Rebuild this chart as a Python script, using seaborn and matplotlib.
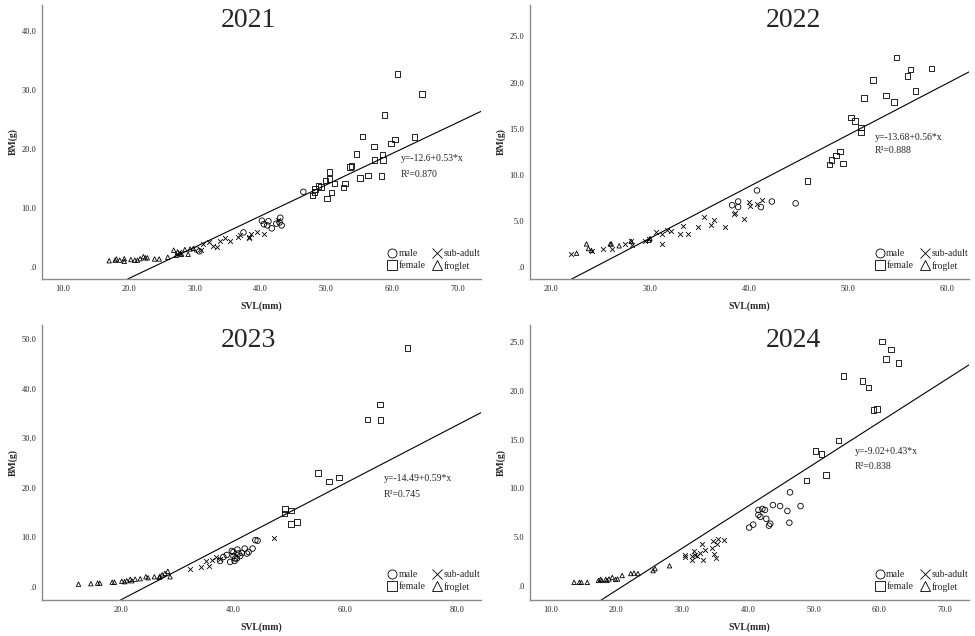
import pandas as pd
import matplotlib.pyplot as plt
import seaborn as sns
from matplotlib.lines import Line2D
from matplotlib.ticker import FuncFormatter

# (SVL mm, BM g), one list per year and group
male_2021 = [(46.5, 12.7), (40.2, 7.8), (40.5, 7.2), (41.0, 7.0), (41.2, 7.7), (41.7, 6.5),
             (42.4, 7.3), (43.0, 8.3), (43.2, 7.0), (42.9, 7.5), (37.4, 5.8), (30.3, 2.9), (30.7, 2.6)]
female_2021 = [(60.8, 32.7), (64.5, 29.3), (58.8, 25.7), (55.5, 22.1), (63.4, 22.0), (57.2, 20.4),
               (60.4, 21.6), (59.8, 20.9), (54.6, 19.1), (58.5, 19.0), (57.3, 18.1), (58.6, 18.1),
               (53.6, 16.9), (53.8, 17.1), (55.1, 15.0), (56.3, 15.5), (58.4, 15.4), (50.5, 16.1),
               (49.9, 14.6), (50.5, 14.9), (51.2, 14.1), (52.8, 14.1), (52.6, 13.4), (48.8, 13.7),
               (49.2, 13.5), (48.3, 13.2), (48.2, 12.7), (47.9, 12.1), (50.8, 12.6), (50.1, 11.6)]
subadult_2021 = [(31.0, 2.9), (31.2, 3.8), (32.1, 4.1), (32.7, 3.5), (33.4, 3.3), (33.9, 4.4),
                 (34.6, 4.8), (35.4, 4.4), (36.5, 5.0), (36.9, 5.3), (38.2, 4.8), (38.5, 5.5),
                 (39.4, 5.8), (40.5, 5.6), (38.3, 5.0), (42.7, 8.0), (27.3, 2.2), (27.6, 2.5)]
froglet_2021 = [(17.0, 1.0), (17.9, 1.1), (18.1, 1.3), (18.6, 1.1), (19.3, 1.35), (19.3, 0.9),
                (20.3, 1.2), (20.9, 1.1), (21.3, 1.1), (21.7, 1.35), (22.2, 1.7), (22.5, 1.5),
                (22.8, 1.5), (23.9, 1.3), (24.6, 1.3), (25.9, 1.6), (26.8, 2.8), (27.2, 1.9),
                (27.4, 2.5), (27.8, 2.2), (28.0, 2.1), (28.5, 2.9), (29.0, 2.1), (29.3, 3.0), (29.8, 3.1)]

male_2022 = [(40.8, 8.3), (38.3, 6.7), (38.9, 7.1), (38.9, 6.5), (41.2, 6.5), (42.3, 7.1), (44.7, 6.9)]
female_2022 = [(54.9, 22.7), (56.3, 21.4), (58.4, 21.5), (56.0, 20.7), (52.5, 20.3), (56.8, 19.1),
               (51.6, 18.3), (53.8, 18.6), (54.6, 17.9), (50.3, 16.2), (50.7, 15.8), (51.3, 15.1),
               (51.3, 14.6), (49.2, 12.5), (48.8, 12.1), (48.3, 11.6), (48.1, 11.1), (49.5, 11.2),
               (45.9, 9.3)]
subadult_2022 = [(40.0, 7.1), (40.1, 6.6), (40.8, 6.8), (41.3, 7.3), (38.5, 5.7), (38.6, 5.9),
                 (39.5, 5.2), (37.6, 4.3), (36.2, 4.6), (36.5, 5.1), (35.5, 5.4), (34.9, 4.3),
                 (33.8, 3.6), (33.0, 3.6), (33.3, 4.5), (32.1, 3.9), (31.7, 4.0), (31.2, 3.6),
                 (31.2, 2.5), (30.6, 3.8), (29.9, 3.0), (29.5, 2.8), (28.2, 2.4), (27.5, 2.5),
                 (26.2, 2.0), (25.3, 1.9), (24.2, 1.7), (22.0, 1.4), (28.1, 2.8)]
froglet_2022 = [(22.6, 1.5), (23.6, 2.5), (23.8, 2.0), (24.1, 1.8), (26.0, 2.5), (26.1, 2.5),
                (26.9, 2.3), (28.1, 2.8), (30.0, 3.1), (29.9, 2.9)]

male_2023 = [(39.5, 5.0), (40.1, 6.2), (40.4, 5.7), (41.0, 6.7), (41.6, 6.8), (42.1, 7.7),
             (42.8, 7.0), (43.5, 7.7), (44.0, 9.4), (44.4, 9.3), (40.7, 5.7), (41.3, 6.2),
             (39.8, 7.2), (38.9, 6.4), (38.3, 6.0), (40.1, 7.0), (40.8, 7.5), (42.5, 6.7),
             (40.3, 5.2), (37.7, 5.2)]
female_2023 = [(71.1, 48.2), (66.2, 36.8), (64.0, 33.8), (66.3, 33.7), (55.2, 23.0), (57.1, 21.3),
               (58.9, 22.1), (49.3, 15.7), (50.3, 15.4), (49.2, 14.8), (50.3, 12.7), (51.4, 13.1)]
subadult_2023 = [(47.3, 9.9), (32.3, 3.6), (34.3, 4.0), (35.8, 4.2), (35.2, 5.2), (36.3, 5.4),
                 (37.0, 5.9), (37.7, 5.5)]
froglet_2023 = [(12.5, 0.5), (14.7, 0.6), (15.9, 0.7), (16.3, 0.7), (18.5, 0.9), (18.9, 0.9),
                (20.2, 1.1), (20.7, 1.0), (21.7, 1.5), (22.6, 1.5), (23.5, 1.6), (24.5, 2.0),
                (24.9, 1.8), (26.0, 2.0), (27.0, 2.1), (27.4, 2.4), (27.9, 2.7), (28.4, 3.1),
                (28.8, 2.0), (26.9, 1.9), (22.0, 1.2), (21.1, 1.2)]

male_2024 = [(46.4, 9.6), (43.8, 8.3), (44.9, 8.2), (48.0, 8.2), (42.6, 7.8), (41.6, 7.8),
             (42.2, 7.9), (46.0, 7.7), (41.6, 7.3), (41.9, 7.1), (42.8, 6.9), (43.4, 6.4),
             (43.2, 6.2), (46.3, 6.5), (40.8, 6.3), (40.2, 6.0)]
female_2024 = [(60.4, 25.0), (61.7, 24.2), (61.0, 23.2), (62.9, 22.8), (54.5, 21.5), (57.4, 21.0),
               (58.3, 20.3), (59.1, 18.0), (59.6, 18.1), (53.8, 14.9), (50.3, 13.8), (51.2, 13.5),
               (51.9, 11.4), (48.9, 10.8)]
subadult_2024 = [(36.4, 4.7), (35.5, 4.8), (34.7, 4.6), (35.3, 4.3), (34.5, 3.9), (34.9, 3.3),
                 (35.2, 2.9), (33.2, 2.7), (31.5, 2.7), (30.4, 3.0), (30.4, 3.2), (33.0, 4.3),
                 (33.5, 3.7), (31.8, 3.6), (32.3, 3.1), (32.8, 3.4), (31.9, 3.2), (31.5, 3.1)]
froglet_2024 = [(13.6, 0.4), (14.4, 0.4), (14.7, 0.4), (15.6, 0.4), (17.3, 0.6), (17.8, 0.6),
                (18.4, 0.7), (18.9, 0.75), (19.4, 0.9), (19.9, 0.7), (20.2, 0.75), (20.9, 1.1),
                (22.2, 1.3), (22.7, 1.35), (23.3, 1.3), (25.6, 1.6), (25.9, 1.8), (28.1, 2.1),
                (17.6, 0.7), (18.6, 0.6)]

years = ["2021", "2022", "2023", "2024"]
intercepts = [-12.6, -13.68, -14.49, -9.02]
slopes = [0.53, 0.56, 0.59, 0.43]
eq_labels = ["y=-12.6+0.53*x", "y=-13.68+0.56*x", "y=-14.49+0.59*x", "y=-9.02+0.43*x"]
r2_labels = ["R²=0.870", "R²=0.888", "R²=0.745", "R²=0.838"]

groups = {
    "2021": [("male", male_2021), ("female", female_2021), ("sub-adult", subadult_2021), ("froglet", froglet_2021)],
    "2022": [("male", male_2022), ("female", female_2022), ("sub-adult", subadult_2022), ("froglet", froglet_2022)],
    "2023": [("male", male_2023), ("female", female_2023), ("sub-adult", subadult_2023), ("froglet", froglet_2023)],
    "2024": [("male", male_2024), ("female", female_2024), ("sub-adult", subadult_2024), ("froglet", froglet_2024)],
}

rows = []
for yr, glist in groups.items():
    for g, pts in glist:
        for svl, bm in pts:
            rows.append({"year": yr, "group": g, "SVL": svl, "BM": bm})
df = pd.DataFrame(rows)

markers = {"male": "o", "female": "s", "sub-adult": "x", "froglet": "^"}
sizes = {"male": 16, "female": 16, "sub-adult": 12, "froglet": 10}

# panel settings (axes limits / tick steps / annotation spot / title x)
xlims = [(6.8, 73.5), (17.9, 62.2), (6.0, 84.2), (6.9, 73.6)]
ylims = [(-2.1, 44.4), (-1.3, 28.4), (-2.7, 52.9), (-1.4, 26.7)]
xticks = [[10, 20, 30, 40, 50, 60, 70], [20, 30, 40, 50, 60], [20, 40, 60, 80], [10, 20, 30, 40, 50, 60, 70]]
yticks = [[0, 10, 20, 30, 40], [0, 5, 10, 15, 20, 25], [0, 10, 20, 30, 40, 50], [0, 5, 10, 15, 20, 25]]
eq_pos = [(61.3, 18.4, 15.6), (52.7, 14.0, 12.6), (66.8, 21.8, 18.6), (56.2, 13.8, 12.2)]
title_x = [0.47, 0.6, 0.47, 0.6]

sns.set_style("white")
plt.rcParams["font.family"] = ["Liberation Serif", "DejaVu Serif"]

fig = plt.figure(figsize=(9.75, 6.36), dpi=100)
rects = [
    [0.0431, 0.5613, 0.4503, 0.4308],
    [0.5436, 0.5613, 0.4503, 0.4308],
    [0.0431, 0.0566, 0.4503, 0.4324],
    [0.5436, 0.0566, 0.4503, 0.4324],
]

fmt = FuncFormatter(lambda v, p: ".0" if abs(v) < 1e-9 else f"{v:.1f}")

for i, yr in enumerate(years):
    ax = fig.add_axes(rects[i])
    sub = df[df["year"] == yr]
    for g, m in markers.items():
        d = sub[sub["group"] == g]
        if m == "x":
            sns.scatterplot(data=d, x="SVL", y="BM", marker=m, s=sizes[g], color="black",
                            linewidth=0.6, ax=ax, zorder=3)
        else:
            sns.scatterplot(data=d, x="SVL", y="BM", marker=m, s=sizes[g], facecolor="none",
                            edgecolor="black", linewidth=0.6, ax=ax, zorder=3)

    ax.axline((0, intercepts[i]), slope=slopes[i], color="black", lw=0.8, zorder=2)

    ax.set_xlim(*xlims[i])
    ax.set_ylim(*ylims[i])
    ax.set_xticks(xticks[i])
    ax.set_yticks(yticks[i])
    ax.xaxis.set_major_formatter(fmt)
    ax.yaxis.set_major_formatter(fmt)
    ax.tick_params(length=0, labelsize=6, pad=4)

    for s in ["top", "right"]:
        ax.spines[s].set_visible(False)
    for s in ["left", "bottom"]:
        ax.spines[s].set_color("#8c8c8c")
        ax.spines[s].set_linewidth(1.0)

    ax.set_xlabel("SVL(mm)", fontsize=7, fontweight="bold", labelpad=6)
    ax.set_ylabel("BM(g)", fontsize=7, fontweight="bold", labelpad=3)

    ax.text(title_x[i], 0.945, yr, transform=ax.transAxes, ha="center", va="center", fontsize=20)

    ex, ey1, ey2 = eq_pos[i]
    ax.text(ex, ey1, eq_labels[i], fontsize=7, ha="left", va="center")
    ax.text(ex, ey2, r2_labels[i], fontsize=7, ha="left", va="center")

    handles = [Line2D([], [], marker=markers[g], linestyle="none", markersize=6.5,
                      markerfacecolor="none", markeredgecolor="black", markeredgewidth=0.6,
                      color="black", label=g)
               for g in ["male", "female", "sub-adult", "froglet"]]
    ax.legend(handles=handles, ncol=2, loc="lower left", bbox_to_anchor=(0.775, 0.005),
              frameon=False, fontsize=7, handlelength=0.7, handletextpad=0.25,
              columnspacing=0.9, labelspacing=0.3, borderpad=0.2)

fig.savefig("out.png", dpi=100)
